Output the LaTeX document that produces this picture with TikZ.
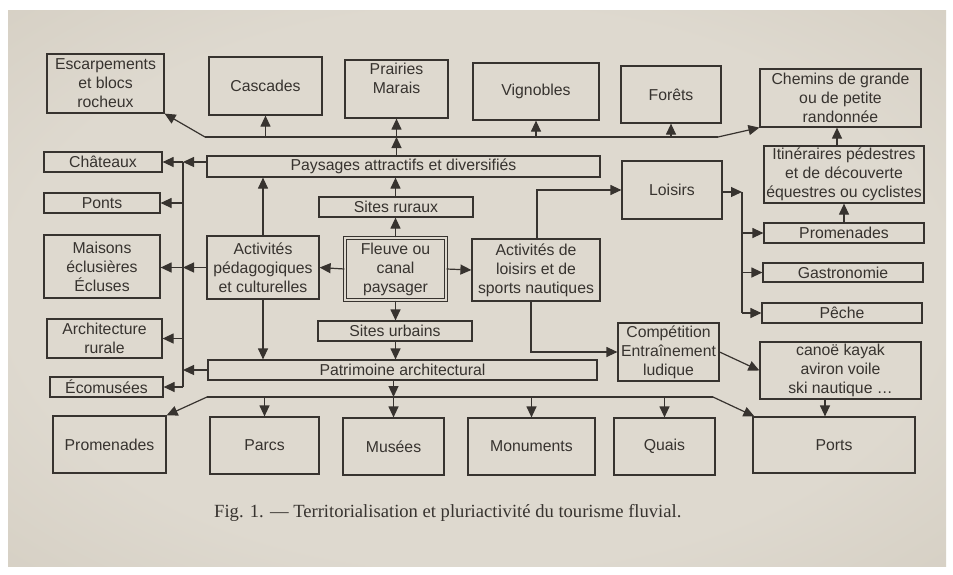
\documentclass[tikz,border=0pt]{standalone}
\usepackage{fontspec}
\setmainfont{Liberation Sans}
\newfontfamily\capfont{Liberation Serif}
\usetikzlibrary{arrows.meta}
\definecolor{pc}{RGB}{222,217,207}
\definecolor{pm}{RGB}{208,201,188}
\definecolor{pe}{RGB}{165,155,140}
\definecolor{ink}{RGB}{55,51,47}
\pgfdeclareradialshading{vign}{\pgfpoint{0bp}{0bp}}{color(0bp)=(pc); color(25bp)=(pc); color(45bp)=(pm); color(72bp)=(pe)}
\tikzset{
  box/.style={draw=ink, line width=1.2pt, rectangle, inner sep=0pt, align=center,
    text=ink, font=\fontsize{15.8}{19}\selectfont},
  lbl/.style={text=ink, align=center, inner sep=0pt, font=\fontsize{15.8}{19}\selectfont},
  conn/.style={draw=ink, line width=1.2pt},
  arr/.style={conn, -{Triangle[length=11pt,width=10pt]}},
}
\newcommand{\bx}[6]{\node[box, minimum width=#4pt, minimum height=#5pt] (#1) at (#2,#3) {#6};}
\begin{document}
\begin{tikzpicture}[x=1pt,y=-1pt]
\useasboundingbox (0,0) rectangle (953,574);
\fill[white] (0,0) rectangle (953,574);
\shade[shading=vign] (8,10) rectangle (946,566);
% top row
\bx{esc}{105.5}{83.5}{117}{59}{Escarpements\\et blocs\\rocheux}
\bx{cas}{265.5}{86}{113}{58}{Cascades}
\bx{pra}{396.5}{89}{103}{58}{}
\node[lbl] (prat) at (396.5,78.5) {Prairies\\Marais};
\bx{vig}{536}{91.5}{126}{57}{Vignobles}
\bx{for}{671}{94.5}{100}{57}{Forêts}
\bx{che}{840.5}{98}{161}{58}{Chemins de grande\\ou de petite\\randonnée}
% middle
\bx{pay}{403.5}{166.5}{393}{21}{Paysages attractifs et diversifiés}
\bx{cha}{103}{162}{118}{20}{Châteaux}
\bx{pon}{102}{203}{116}{20}{Ponts}
\bx{mai}{102}{266.5}{116}{63}{Maisons\\éclusières\\Écluses}
\bx{arc}{104.5}{338.5}{115}{39}{Architecture\\rurale}
\bx{eco}{106.5}{387}{113}{20}{Écomusées}
\bx{ap}{263}{267.5}{112}{63}{Activités\\pédagogiques\\et culturelles}
\bx{sr}{396}{207}{154}{20}{Sites ruraux}
\node[box, double=pc, double distance=2.2pt, minimum width=101pt, minimum height=62pt] (fl) at (395.5,269) {Fleuve ou\\canal\\paysager};
\bx{al}{536}{270}{128}{62}{Activités de\\loisirs et de\\sports nautiques}
\bx{su}{395}{331}{154}{20}{Sites urbains}
\bx{pat}{402.5}{370}{389}{20}{Patrimoine architectural}
% right
\bx{loi}{672}{190}{100}{58}{Loisirs}
\bx{iti}{844}{174.5}{160}{57}{Itinéraires pédestres\\et de découverte\\équestres ou cyclistes}
\bx{prr}{844}{233}{160}{20}{Promenades}
\bx{gas}{843}{272.5}{160}{19}{Gastronomie}
\bx{pec}{842}{313}{160}{20}{Pêche}
\bx{com}{668.5}{352}{101}{58}{Compétition\\Entraînement\\ludique}
\bx{can}{840.5}{370.5}{161}{57}{canoë kayak\\aviron voile\\ski nautique \dots}
% bottom row
\bx{prb}{109.5}{444.5}{113}{57}{Promenades}
\bx{par}{264.5}{445.5}{109}{57}{Parcs}
\bx{mus}{393.5}{446.5}{101}{57}{Musées}
\bx{mon}{531.5}{446.5}{127}{57}{Monuments}
\bx{qua}{664.5}{446.5}{101}{57}{Quais}
\bx{por}{834}{445}{162}{56}{Ports}
% caption
\node[text=ink, inner sep=0pt, font=\capfont\fontsize{18.6}{22}\selectfont, anchor=west] (cap) at (214,513) {Fig. 1. — Territorialisation et pluriactivité du tourisme fluvial.};
% top distribution line
\coordinate (tl) at (205,137);
\coordinate (tr) at (718,137);
\coordinate (tj) at (396.5,137);
\draw[conn] (tl) -- (tr);
\draw[arr] (tl) -- (esc.south east);
\draw[arr] (tr) -- (che.south west);
\draw[arr] (pay.north -| tj) -- (tj);
\draw[arr] (tj) -- (pra.south);
\draw[arr] (cas.south |- tl) -- (cas.south);
\draw[arr] (vig.south |- tl) -- (vig.south);
\draw[arr] (for.south |- tl) -- (for.south);
% left bus
\coordinate (bt) at (183,162);
\coordinate (bb) at (183,387);
\draw[conn] (bt) -- (bb);
\draw[arr] (pay.west |- cha) -- (bt);
\draw[arr] (bt) -- (cha.east);
\draw[arr] (bt |- pon) -- (pon.east);
\draw[arr] (ap.west) -- (bt |- ap.west);
\draw[arr] (bt |- ap.west) -- (mai.east |- ap.west);
\draw[arr] (bt |- arc) -- (arc.east);
\draw[arr] (pat.west) -- (bt |- pat.west);
\draw[arr] (bb) -- (eco.east);
% centre
\draw[arr] (ap.north) -- (ap.north |- pay.south);
\draw[arr] (ap.south) -- (ap.south |- pat.north);
\draw[arr] (fl.north) -- (sr.south -| fl.north);
\draw[arr] (sr.north -| fl.north) -- (pay.south -| fl.north);
\draw[arr] (fl.south) -- (su.north -| fl.south);
\draw[arr] (su.south -| fl.south) -- (pat.north -| fl.south);
\draw[arr] (fl.west) -- (ap.east);
\draw[arr] (fl.east) -- (al.west);
\draw[arr] ([xshift=1pt]al.north) |- (loi.west);
\draw[arr] ([xshift=-5pt]al.south) |- (com.west);
% right bus
\coordinate (rb) at (742,192);
\draw[arr] (loi.east |- rb) -- (rb);
\draw[conn] (rb) -- (rb |- pec);
\draw[arr] (rb |- prr) -- (prr.west);
\draw[arr] (rb |- gas) -- (gas.west);
\draw[arr] (rb |- pec) -- (pec.west);
\draw[arr] (prr.north -| iti.south) -- (iti.south);
\draw[arr] (iti.north -| 837,0) -- (che.south -| 837,0);
\draw[arr] (com.east) -- (can.west);
% bottom distribution line
\coordinate (bl) at (207,397);
\coordinate (br) at (713,397);
\coordinate (bj) at (393.5,397);
\draw[conn] (bl) -- (br);
\draw[arr] (pat.south -| bj) -- (bj);
\draw[arr] (bl) -- (prb.north east);
\draw[arr] (br) -- ([xshift=2pt]por.north west);
\draw[arr] (par.north |- bl) -- (par.north);
\draw[arr] (bj) -- (mus.north);
\draw[arr] (mon.north |- bl) -- (mon.north);
\draw[arr] (qua.north |- bl) -- (qua.north);
\draw[arr] (can.south -| 825,0) -- (por.north -| 825,0);
\end{tikzpicture}
\end{document}
